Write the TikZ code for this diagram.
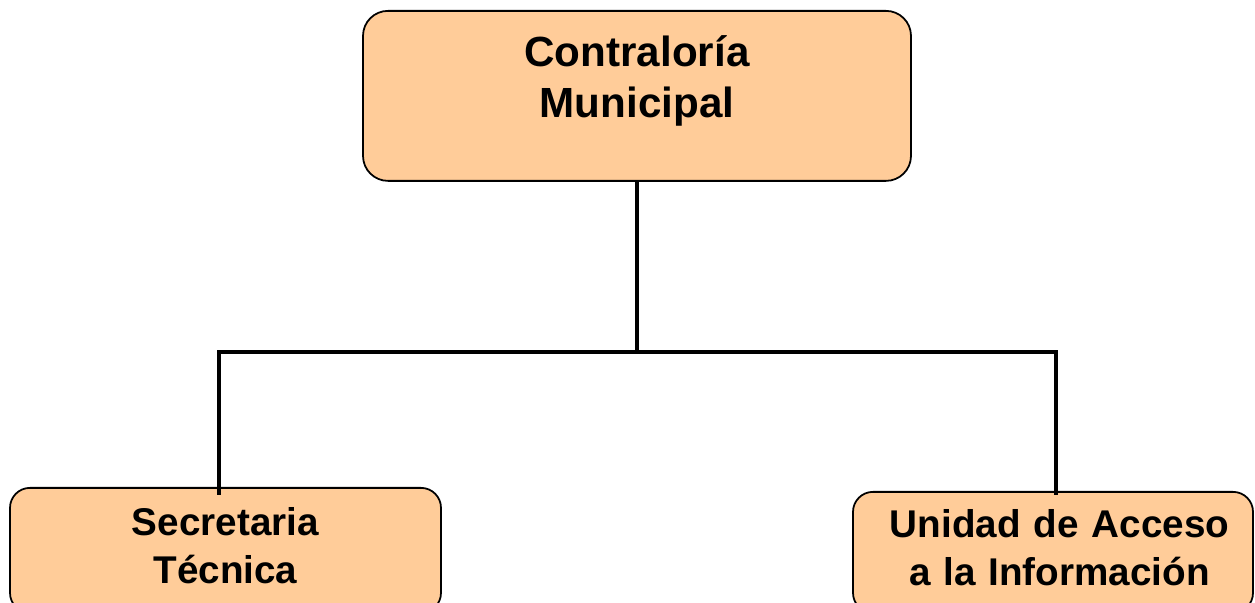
\documentclass[tikz,border=0pt]{standalone}
\usepackage{fontspec}
\setmainfont{Liberation Sans}
\definecolor{boxfill}{HTML}{FFCC99}
\tikzset{
  unit/.style={draw=black, line width=1pt, fill=boxfill, rounded corners=0.4cm,
    anchor=north, align=center, inner xsep=0pt, inner ysep=0pt, font=\bfseries},
  link/.style={draw=black, line width=2.2pt}
}
\begin{document}
\begin{tikzpicture}
  \useasboundingbox (0,0) rectangle (25.1,12.06);
  \draw
    (12.74,11.86) node[unit, rounded corners=0.5cm, text width=10.96cm,
      text height=1.114cm, text depth=2.286cm,
      font=\bfseries\fontsize{24}{29}\selectfont] (ctrl) {Contraloría\\Municipal}
    (4.51,2.32) node[unit, text width=8.62cm, text height=0.96cm, text depth=1.54cm,
      font=\bfseries\fontsize{22}{27}\selectfont] (sec) {Secretaria\\Técnica}
    (21.06,2.24) node[unit, text width=8cm, text height=0.92cm, text depth=1.5cm,
      font=\bfseries\fontsize{22}{27}\selectfont] (uai)
      {\hspace*{0.26cm}Unidad de Acceso\\\hspace*{0.26cm}a la Información};
  \coordinate (bus) at (12.74,5.02);
  \draw[link] (ctrl.south) -- (bus);
  \draw[link] ([xshift=-0.13cm,yshift=-0.16cm]sec.north) |- (bus)
    -| ([xshift=0.06cm,yshift=-0.08cm]uai.north);
\end{tikzpicture}
\end{document}
